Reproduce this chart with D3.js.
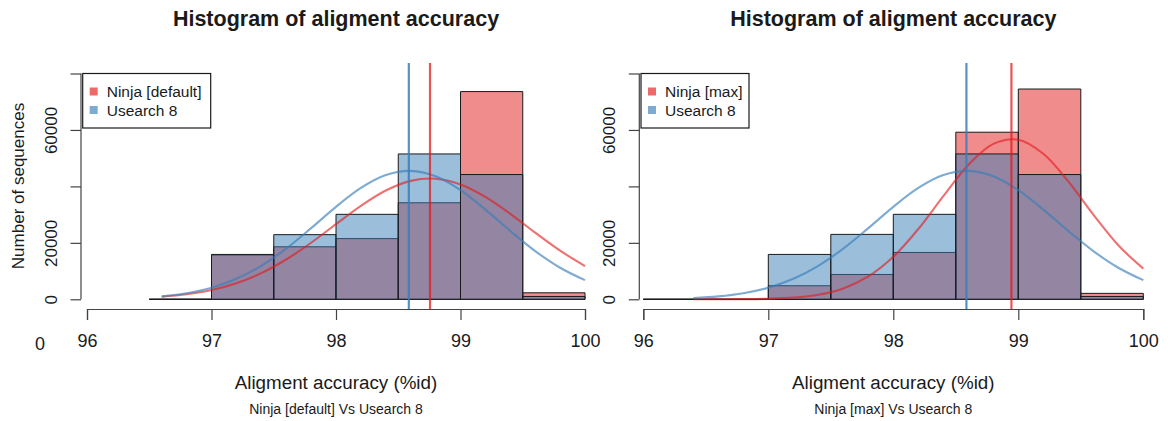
<!DOCTYPE html>
<html>
<head>
<meta charset="utf-8">
<script src="https://cdn.jsdelivr.net/npm/d3@7/dist/d3.min.js"></script>
<style>
  html, body { margin: 0; padding: 0; background: #fff; }
  svg { display: block; }
  text { font-family: "Liberation Sans", Arial, Helvetica, sans-serif; fill: #1a1a1a; }
</style>
</head>
<body>
<svg id="chart" width="1168" height="421"></svg>
<script>
// ---------------- data ----------------
const binWidth = 0.5;
const xTicks = [96, 97, 98, 99, 100];
const yTicks = [0, 20000, 40000, 60000, 80000];
const yTickLabels = ["0", "20000", "", "60000", ""];

// left panel: Ninja [default] vs Usearch 8
const binsLeft = [96.5, 97, 97.5, 98, 98.5, 99, 99.5];
const ninjaDefaultCounts = [0, 15700, 18600, 21500, 34200, 73600, 2300];
const usearchCountsLeft = [0, 15900, 22900, 30100, 51500, 44200, 1000];
const curveXLeft = [96.6, 96.8, 97.0, 97.2, 97.4, 97.6, 97.8, 98.0, 98.2, 98.4, 98.6, 98.8, 99.0, 99.2, 99.4, 99.6, 99.8, 100.0];
const curveNinjaDefault = [900, 1780, 3300, 5720, 9280, 14100, 20030, 26630, 33120, 38540, 41950, 42730, 40710, 36300, 30270, 23620, 17240, 11780];
const curveUsearchLeft = [1050, 2160, 4110, 7260, 11870, 17970, 25200, 32760, 39440, 44010, 45490, 43570, 38670, 31790, 24220, 17090, 11180, 6780];
const meanNinjaDefault = 98.755;

// right panel: Ninja [max] vs Usearch 8
const binsRight = [96, 96.5, 97, 97.5, 98, 98.5, 99, 99.5];
const ninjaMaxCounts = [0, 0, 4800, 8800, 16600, 59200, 74500, 2100];
const usearchCountsRight = [0, 0, 15900, 23000, 30100, 51500, 44200, 1000];
const curveXRight = [96.4, 96.6, 96.8, 97.0, 97.2, 97.4, 97.6, 97.8, 98.0, 98.2, 98.4, 98.6, 98.8, 99.0, 99.2, 99.4, 99.6, 99.8, 100.0];
const curveNinjaMax = [4, 16, 61, 205, 615, 1635, 3860, 8090, 15060, 24900, 36530, 47590, 55050, 56540, 51570, 41760, 30020, 19160, 10860];
const curveUsearchRight = [475, 1050, 2160, 4110, 7260, 11870, 17970, 25200, 32760, 39440, 44010, 45490, 43570, 38670, 31790, 24220, 17090, 11180, 6780];
const meanNinjaMax = 98.945;
const meanUsearch = 98.585;

const titleText = "Histogram of aligment accuracy";
const xTitleText = "Aligment accuracy (%id)";
const yTitleText = "Number of sequences";

// ---------------- styling / layout ----------------
const RED = "#E41A1C", BLUE = "#377EB8";
const svg = d3.select("#chart");

const panels = [
  {
    x0: 87, x1: 585, yAxisX: 81, legendW: 128,
    bins: binsLeft, red: ninjaDefaultCounts, blue: usearchCountsLeft,
    cx: curveXLeft, redCurve: curveNinjaDefault, blueCurve: curveUsearchLeft,
    redMean: meanNinjaDefault, blueMean: meanUsearch,
    redLabel: "Ninja [default]", sub: "Ninja [default] Vs Usearch 8",
    yTitle: true, strayZero: true
  },
  {
    x0: 643.3, x1: 1143.3, yAxisX: 639.3, legendW: 108,
    bins: binsRight, red: ninjaMaxCounts, blue: usearchCountsRight,
    cx: curveXRight, redCurve: curveNinjaMax, blueCurve: curveUsearchRight,
    redMean: meanNinjaMax, blueMean: meanUsearch,
    redLabel: "Ninja [max]", sub: "Ninja [max] Vs Usearch 8",
    yTitle: false, strayZero: false
  }
];

panels.forEach(p => {
  const g = svg.append("g");
  const x = d3.scaleLinear().domain([96, 100]).range([p.x0, p.x1]);
  const y = d3.scaleLinear().domain([0, 80000]).range([299.3, 73.5]);
  const cx = (p.x0 + p.x1) / 2;
  const axisY = 309;

  // bars (red first, blue over it)
  const barPath = (b, v) => {
    const xa = x(b), xb = x(b + binWidth), y0 = y(0), y1 = y(v);
    return `M${xa},${y0}H${xb}V${y1}H${xa}Z`;
  };
  g.append("g").selectAll("path").data(p.bins.map((b, i) => ({ b, v: p.red[i] })))
    .join("path")
    .attr("d", d => barPath(d.b, d.v))
    .attr("fill", RED).attr("fill-opacity", 0.5)
    .attr("stroke", "#1a1a1a").attr("stroke-width", 1);
  g.append("g").selectAll("path").data(p.bins.map((b, i) => ({ b, v: p.blue[i] })))
    .join("path")
    .attr("d", d => barPath(d.b, d.v))
    .attr("fill", BLUE).attr("fill-opacity", 0.5)
    .attr("stroke", "#1a1a1a").attr("stroke-width", 1);

  // fitted curves
  const line = d3.line().x(d => x(d[0])).y(d => y(d[1])).curve(d3.curveCatmullRom);
  g.append("path").attr("d", line(p.cx.map((v, i) => [v, p.redCurve[i]])))
    .attr("fill", "none").attr("stroke", RED).attr("stroke-opacity", 0.62).attr("stroke-width", 2.1);
  g.append("path").attr("d", line(p.cx.map((v, i) => [v, p.blueCurve[i]])))
    .attr("fill", "none").attr("stroke", BLUE).attr("stroke-opacity", 0.65).attr("stroke-width", 2.1);

  // mean lines
  g.append("line").attr("x1", x(p.blueMean)).attr("x2", x(p.blueMean))
    .attr("y1", 63).attr("y2", axisY)
    .attr("stroke", BLUE).attr("stroke-opacity", 0.85).attr("stroke-width", 2.2);
  g.append("line").attr("x1", x(p.redMean)).attr("x2", x(p.redMean))
    .attr("y1", 63).attr("y2", axisY)
    .attr("stroke", RED).attr("stroke-opacity", 0.75).attr("stroke-width", 2.2);

  // x axis
  const xAxis = d3.axisBottom(x).tickValues(xTicks).tickSize(11).tickPadding(14)
    .tickFormat(d3.format("d"));
  const gx = g.append("g").attr("transform", `translate(0,${axisY})`).call(xAxis);
  gx.select(".domain").attr("stroke", "#444").attr("stroke-width", 1.2);
  gx.selectAll(".tick line").attr("stroke", "#444").attr("stroke-width", 1.2);
  gx.selectAll(".tick text").attr("font-size", 18).attr("fill", "#1a1a1a")
    .style("font-family", "'Liberation Sans', Arial, sans-serif");

  // y axis
  const yAxis = d3.axisLeft(y).tickValues(yTicks).tickSize(10.5).tickPadding(0)
    .tickFormat((d, i) => yTickLabels[i]);
  const gy = g.append("g").attr("transform", `translate(${p.yAxisX},0)`).call(yAxis);
  gy.select(".domain").attr("stroke", "#444").attr("stroke-width", 1.2)
    .attr("d", `M0,${y(0)}V${y(80000)}`);
  gy.selectAll(".tick line").attr("stroke", "#444").attr("stroke-width", 1.2);
  gy.selectAll(".tick text")
    .attr("font-size", 17).attr("fill", "#1a1a1a")
    .style("font-family", "'Liberation Sans', Arial, sans-serif")
    .attr("text-anchor", "middle").attr("dy", null)
    .attr("x", null)
    .attr("transform", "translate(-24,0) rotate(-90)");

  // legend
  const lg = g.append("g").attr("transform", `translate(${p.yAxisX + 1.7},73.5)`);
  lg.append("rect").attr("width", p.legendW).attr("height", 54.5)
    .attr("fill", "#fff").attr("stroke", "#1a1a1a").attr("stroke-width", 1.2);
  [[p.redLabel, RED], ["Usearch 8", BLUE]].forEach(([t, c], i) => {
    lg.append("rect").attr("x", 7).attr("y", 14 + i * 18.5).attr("width", 8).attr("height", 8)
      .attr("fill", c).attr("fill-opacity", 0.65);
    lg.append("text").attr("x", 24).attr("y", 23.5 + i * 18.5)
      .attr("font-size", 15.5).text(t);
  });

  // titles
  g.append("text").attr("x", cx).attr("y", 26).attr("text-anchor", "middle")
    .attr("font-size", 21.5).attr("font-weight", "bold").text(titleText);
  g.append("text").attr("x", cx).attr("y", 389).attr("text-anchor", "middle")
    .attr("font-size", 18.8).text(xTitleText);
  g.append("text").attr("x", cx).attr("y", 414).attr("text-anchor", "middle")
    .attr("font-size", 14).text(p.sub);

  if (p.yTitle) {
    g.append("text").attr("transform", `translate(24,186) rotate(-90)`)
      .attr("text-anchor", "middle").attr("font-size", 17).text(yTitleText);
  }
  if (p.strayZero) {
    g.append("text").attr("x", 40).attr("y", 350).attr("text-anchor", "middle")
      .attr("font-size", 18).text("0");
  }
});
</script>
</body>
</html>
